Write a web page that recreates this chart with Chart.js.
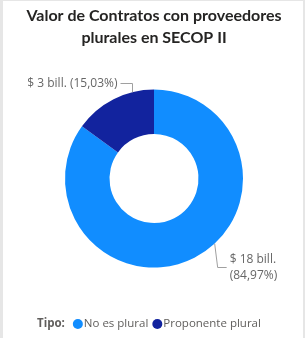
<!DOCTYPE html>
<html>
<head>
<meta charset="utf-8">
<script src="https://cdn.jsdelivr.net/npm/chart.js@4"></script>
<style>
  html, body { margin: 0; padding: 0; background: #fff; }
  #wrap { width: 305px; height: 338px; position: relative; }
</style>
</head>
<body>
<div id="wrap"><canvas id="donut" width="305" height="338"></canvas></div>
<script>
const categories = ['No es plural', 'Proponente plural'];
const values = [18.0, 3.18];
const valueLabels = ['$ 18 bill.', '$ 3 bill.'];
const percentLabels = ['(84,97%)', '(15,03%)'];
const titleLines = ['Valor de Contratos con proveedores', 'plurales en SECOP II'];
const legendTitle = 'Tipo:';
const colors = ['#118DFF', '#12239E'];

const TITLE_FONT = '"Segoe UI", Lato, sans-serif';
const FONT = '"Segoe UI", "Open Sans", sans-serif';

const framePlugin = {
  id: 'frame',
  beforeDraw(chart) {
    const ctx = chart.ctx;
    ctx.save();
    ctx.fillStyle = '#e6e6e6';
    ctx.fillRect(0, 0, chart.width, chart.height);
    ctx.fillStyle = '#ffffff';
    ctx.fillRect(3, 1, chart.width - 5, chart.height - 1);
    ctx.restore();
  }
};

const decorPlugin = {
  id: 'decor',
  afterDraw(chart) {
    const ctx = chart.ctx;
    ctx.save();

    // title
    ctx.fillStyle = '#252423';
    ctx.font = 'bold 16px ' + TITLE_FONT;
    ctx.textAlign = 'center';
    ctx.textBaseline = 'middle';
    titleLines.forEach((line, i) => ctx.fillText(line, 154, 16 + i * 21.5));

    // data labels with leader lines
    const arcs = chart.getDatasetMeta(0).data;
    ctx.strokeStyle = '#a0a0a0';
    ctx.lineWidth = 1;
    ctx.fillStyle = '#666666';
    ctx.font = '12px ' + FONT;
    ctx.textBaseline = 'middle';

    // small slice (Proponente plural): label at upper left
    {
      const a = arcs[1];
      const ang = a.endAngle - 0.25;
      const px = Math.round(a.x + Math.cos(ang) * a.outerRadius) + 0.5;
      const py = a.y + Math.sin(ang) * a.outerRadius;
      const ly = 83.5;
      ctx.beginPath();
      ctx.moveTo(px, py);
      ctx.lineTo(px, ly);
      ctx.lineTo(px - 12, ly);
      ctx.stroke();
      ctx.textAlign = 'right';
      ctx.fillText(valueLabels[1] + ' ' + percentLabels[1], px - 15, ly);
    }

    // large slice (No es plural): label at lower right
    {
      const a = arcs[0];
      const ang = Math.PI / 2 - 0.75;
      const px = a.x + Math.cos(ang) * a.outerRadius;
      const py = a.y + Math.sin(ang) * a.outerRadius;
      const ly = 267.5;
      ctx.beginPath();
      ctx.moveTo(px, py);
      ctx.lineTo(px + 3, ly);
      ctx.lineTo(px + 12, ly);
      ctx.stroke();
      ctx.textAlign = 'left';
      ctx.fillText(valueLabels[0], px + 15, 260);
      ctx.fillText(percentLabels[0], px + 15, 276);
    }

    // legend
    const ly = 324;
    let x = 37;
    ctx.textAlign = 'left';
    ctx.font = 'bold 11.5px ' + FONT;
    ctx.fillStyle = '#605E5C';
    ctx.fillText(legendTitle, x, ly);
    x += ctx.measureText(legendTitle).width + 8;
    ctx.font = '11.5px ' + FONT;
    categories.forEach((cat, i) => {
      ctx.fillStyle = colors[i];
      ctx.beginPath();
      ctx.arc(x + 5, ly, 5, 0, Math.PI * 2);
      ctx.fill();
      ctx.fillStyle = '#605E5C';
      ctx.fillText(cat, x + 11, ly);
      x += 11 + ctx.measureText(cat).width + 4;
    });

    ctx.restore();
  }
};

new Chart(document.getElementById('donut'), {
  type: 'doughnut',
  data: {
    labels: categories,
    datasets: [{
      data: values,
      backgroundColor: colors,
      borderWidth: 0
    }]
  },
  options: {
    responsive: false,
    animation: false,
    cutout: '50%',
    layout: { padding: { top: 89.5, bottom: 70.5, left: 65, right: 62 } },
    plugins: {
      legend: { display: false },
      title: { display: false },
      tooltip: { enabled: false }
    }
  },
  plugins: [framePlugin, decorPlugin]
});
</script>
</body>
</html>
